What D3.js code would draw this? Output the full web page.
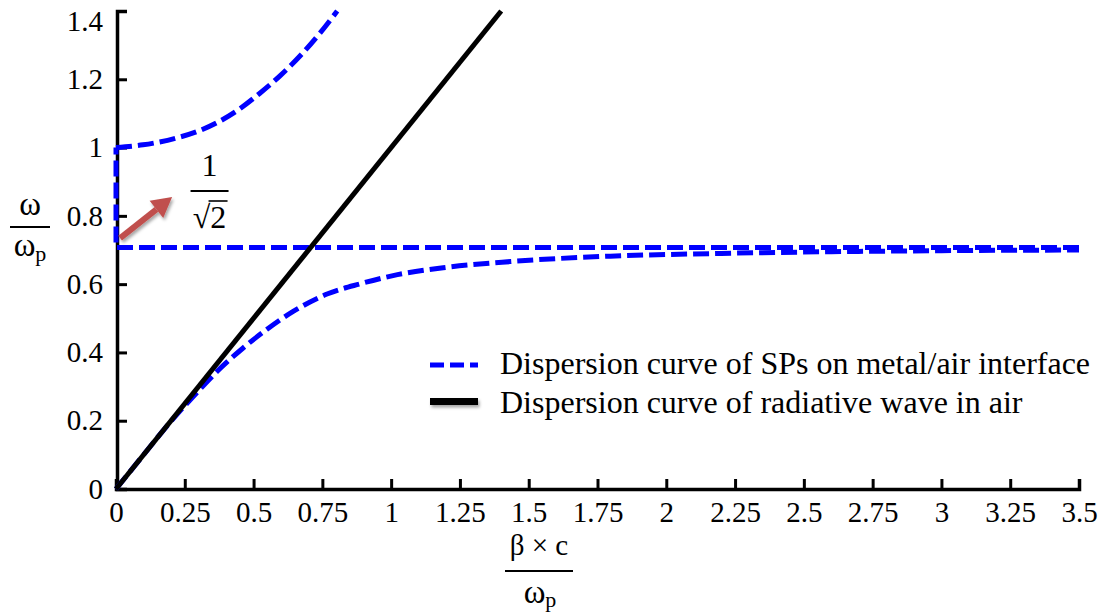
<!DOCTYPE html>
<html>
<head>
<meta charset="utf-8">
<script src="https://cdn.jsdelivr.net/npm/d3@7"></script>
<style>
  body { margin: 0; background: #fff; }
</style>
</head>
<body>
<svg id="chart" width="1110" height="612"></svg>
<script>
// ticks
var xTicks = [0, 0.25, 0.5, 0.75, 1, 1.25, 1.5, 1.75, 2, 2.25, 2.5, 2.75, 3, 3.25, 3.5];
var yTicks = [0, 0.2, 0.4, 0.6, 0.8, 1, 1.2, 1.4];

// radiative wave in air (light line)
var airLine = [[0, 0], [1.4, 1.4]];

// SP dispersion: lower branch
var spLower = [[0, 0], [0.1, 0.1], [0.16, 0.16], [0.22, 0.217], [0.28, 0.27], [0.367, 0.344],
  [0.462, 0.413], [0.549, 0.468], [0.644, 0.52], [0.767, 0.571], [0.887, 0.601],
  [1.007, 0.625], [1.189, 0.648], [1.433, 0.666], [1.796, 0.682], [2.2, 0.69],
  [2.6, 0.695], [3.0, 0.698], [3.5, 0.7]];
// horizontal part at 1/sqrt(2) and vertical part at beta = 0
var spFlat = [[3.5, 0.707], [0, 0.707], [0, 1.0]];
// upper branch
var spUpper = [[0, 1.0], [0.098, 1.008], [0.22, 1.028], [0.305, 1.05], [0.44, 1.108],
  [0.524, 1.16], [0.596, 1.21], [0.68, 1.278], [0.742, 1.336], [0.804, 1.4]];

var legendLabels = ["Dispersion curve of SPs on metal/air interface",
                    "Dispersion curve of radiative wave in air"];

var SERIF = '"Liberation Serif", "Times New Roman", Times, serif';

var svg = d3.select("#chart").style("font-family", SERIF);
svg.append("rect").attr("width", 1110).attr("height", 612).attr("fill", "#fff");

var defs = svg.append("defs");
var f = defs.append("filter").attr("id", "shadow").attr("filterUnits", "userSpaceOnUse")
  .attr("x", 0).attr("y", 0).attr("width", 1110).attr("height", 612);
f.append("feDropShadow").attr("dx", 1.5).attr("dy", 2.5).attr("stdDeviation", 1.8)
  .attr("flood-color", "#000").attr("flood-opacity", 0.35);

var x = d3.scaleLinear().domain([0, 3.5]).range([116, 1079]);
var y = d3.scaleLinear().domain([0, 1.4]).range([489, 11]);

// axes
var gx = svg.append("g").attr("transform", "translate(0,489)")
  .call(d3.axisBottom(x).tickValues(xTicks).tickSize(-10).tickPadding(12)
    .tickFormat(function (d) { return String(d); }));
var gy = svg.append("g").attr("transform", "translate(117,0)")
  .call(d3.axisLeft(y).tickValues(yTicks).tickSize(-10).tickPadding(14)
    .tickFormat(function (d) { return String(d); }));

[gx, gy].forEach(function (g) {
  g.attr("font-family", null).attr("font-size", null);
  g.select(".domain").attr("stroke", "#000").attr("stroke-width", 3.5);
  g.selectAll(".tick line").attr("stroke", "#000").attr("stroke-width", 3);
  g.selectAll(".tick text").style("font-family", SERIF).style("font-size", "29px").attr("fill", "#000");
});
gy.selectAll(".tick text").filter(function (d) { return d === 1.4; })
  .attr("transform", "translate(0,10)");

var line = d3.line().x(function (d) { return x(d[0]); }).y(function (d) { return y(d[1]); });
var lineCurve = d3.line().curve(d3.curveMonotoneX)
  .x(function (d) { return x(d[0]); }).y(function (d) { return y(d[1]); });

// blue dashed SP curves
var dash = "16,6";
[[spLower, lineCurve], [spFlat, line], [spUpper, lineCurve]].forEach(function (s) {
  svg.append("path").datum(s[0]).attr("d", s[1])
    .attr("fill", "none").attr("stroke", "#0000ff").attr("stroke-width", 5)
    .attr("stroke-dasharray", dash);
});

// black light line
svg.append("path").datum(airLine).attr("d", line)
  .attr("fill", "none").attr("stroke", "#000").attr("stroke-width", 5);

// annotation arrow pointing at 1/sqrt(2)
var tail = [x(0.015), y(0.735)], tip = [x(0.204), y(0.855)];
var ang = Math.atan2(tip[1] - tail[1], tip[0] - tail[0]);
var hl = 20, hw = 11;
var base = [tip[0] - hl * Math.cos(ang), tip[1] - hl * Math.sin(ang)];
var arrow = svg.append("g").attr("filter", "url(#shadow)");
arrow.append("line").attr("x1", tail[0]).attr("y1", tail[1]).attr("x2", base[0]).attr("y2", base[1])
  .attr("stroke", "#c0504d").attr("stroke-width", 6);
arrow.append("path").attr("fill", "#c0504d").attr("d",
  "M" + tip[0] + "," + tip[1] +
  "L" + (base[0] + hw * Math.sin(ang)) + "," + (base[1] - hw * Math.cos(ang)) +
  "L" + (base[0] - hw * Math.sin(ang)) + "," + (base[1] + hw * Math.cos(ang)) + "Z");

function txt(xp, yp, size, s) {
  return svg.append("text").attr("x", xp).attr("y", yp).attr("text-anchor", "middle")
    .style("font-family", SERIF).style("font-size", size + "px").text(s);
}
function bar(x1, x2, yp, w) {
  svg.append("line").attr("x1", x1).attr("x2", x2).attr("y1", yp).attr("y2", yp)
    .attr("stroke", "#000").attr("stroke-width", w);
}

// 1/sqrt(2)
var ax = x(0.34);
txt(ax, 176, 32, "1");
bar(ax - 19, ax + 19, 191, 2);
txt(ax, 228, 32, "\u221A2");
bar(ax - 1, ax + 18, 201, 1.6);

// y axis label: omega / omega_p
txt(30, 215, 33, "\u03C9");
bar(10, 50, 227, 2);
var yl = txt(30, 256, 33, "\u03C9");
yl.append("tspan").attr("dy", 5).style("font-size", "22px").text("p");

// x axis label: beta x c / omega_p
txt(539, 555, 29, "\u03B2 \u00D7 c");
bar(505, 573, 571, 2);
var xl = txt(540, 603, 33, "\u03C9");
xl.append("tspan").attr("dy", 4).style("font-size", "22px").text("p");

// legend
var lg = svg.append("g");
lg.append("line").attr("x1", 430).attr("x2", 478).attr("y1", 365).attr("y2", 365)
  .attr("stroke", "#0000ff").attr("stroke-width", 5).attr("stroke-dasharray", "14,6");
lg.append("rect").attr("x", 430).attr("y", 398).attr("width", 48).attr("height", 7)
  .attr("fill", "#000").attr("filter", "url(#shadow)");
lg.selectAll("text.leg").data(legendLabels).enter().append("text").attr("class", "leg")
  .attr("x", 500).attr("y", function (d, i) { return 374 + i * 39; })
  .style("font-family", SERIF).style("font-size", "32px").text(function (d) { return d; });
</script>
</body>
</html>
